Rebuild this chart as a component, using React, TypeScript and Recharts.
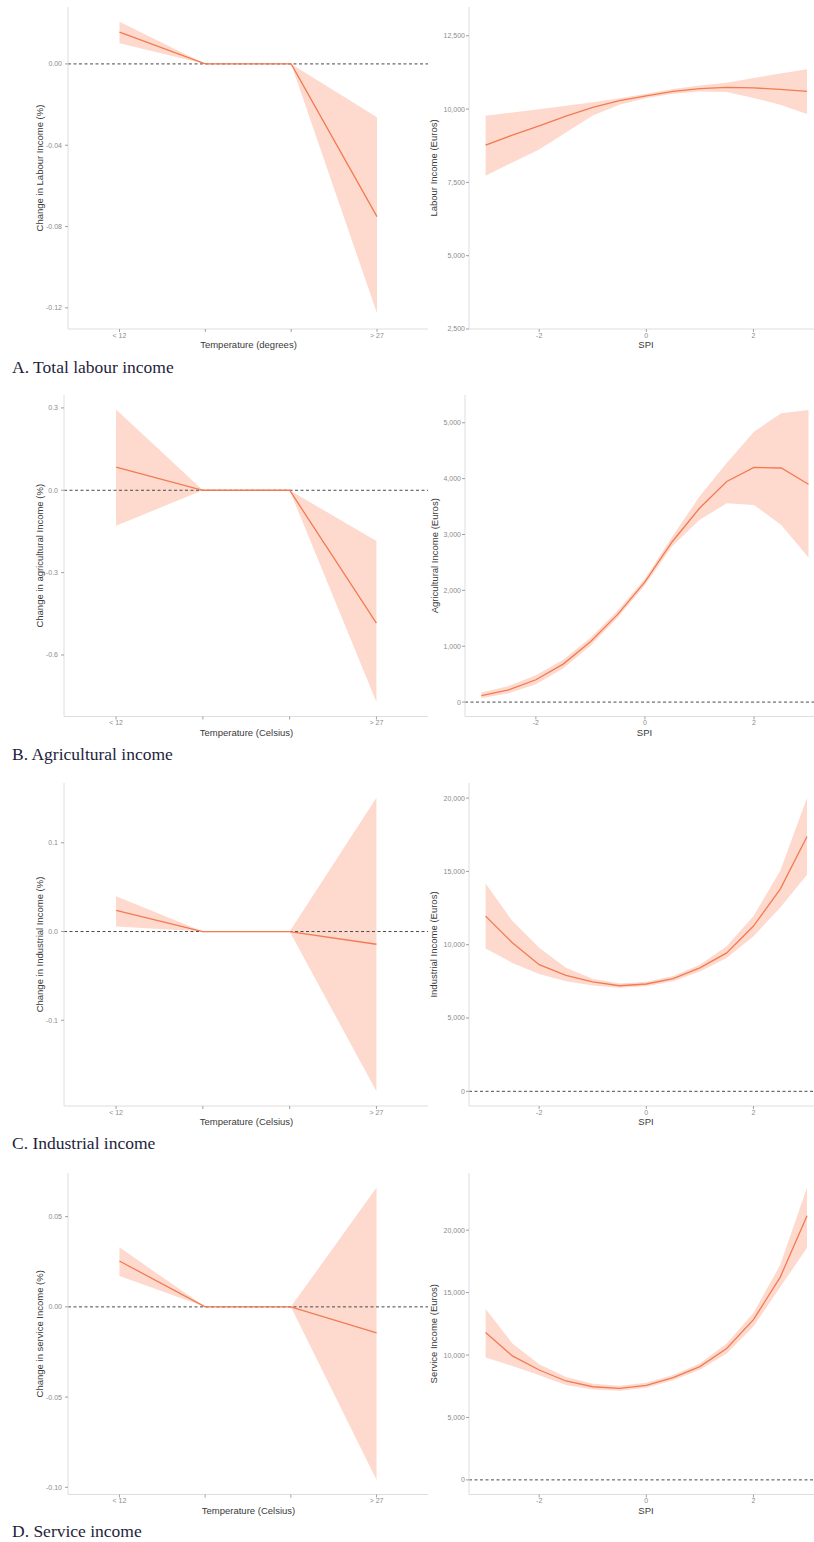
import { ComposedChart, Area, Line, XAxis, YAxis, ReferenceLine } from 'recharts';

// temperature bins (numeric positions 1..4, only the outer bins are labelled)
const tempPos = [1, 2, 3, 4];
const tempLabels = ['< 12', '', '', '> 27'];

// SPI evaluation grid and axis ticks
const spi = [-3, -2.5, -2, -1.5, -1, -0.5, 0, 0.5, 1, 1.5, 2, 2.5, 3];
const spiTicks = [-2, 0, 2];

// A. total labour income
const labourTempEst = [0.0156, 0, 0, -0.0751];
const labourTempLo = [0.0102, 0, 0, -0.1227];
const labourTempHi = [0.0208, 0, 0, -0.0262];
const labourTempTicks = [-0.12, -0.08, -0.04, 0];
const labourSpiEst = [8770, 9110, 9430, 9760, 10060, 10290, 10450, 10600, 10700, 10740, 10720, 10670, 10600];
const labourSpiLo = [7730, 8180, 8620, 9200, 9780, 10150, 10380, 10520, 10600, 10580, 10380, 10150, 9830];
const labourSpiHi = [9770, 9880, 9990, 10110, 10230, 10370, 10520, 10680, 10800, 10900, 11060, 11210, 11360];
const labourSpiTicks = [2500, 5000, 7500, 10000, 12500];

// B. agricultural income
const agriTempEst = [0.084, 0, 0, -0.484];
const agriTempLo = [-0.129, 0, 0, -0.771];
const agriTempHi = [0.294, 0, 0, -0.185];
const agriTempTicks = [-0.6, -0.3, 0, 0.3];
const agriSpiEst = [115, 220, 400, 680, 1080, 1570, 2150, 2870, 3470, 3950, 4200, 4190, 3900];
const agriSpiLo = [70, 160, 320, 600, 1010, 1510, 2090, 2790, 3260, 3560, 3530, 3170, 2590];
const agriSpiHi = [170, 290, 480, 760, 1150, 1640, 2210, 2960, 3680, 4280, 4840, 5170, 5230];
const agriSpiTicks = [0, 1000, 2000, 3000, 4000, 5000];

// C. industrial income
const indTempEst = [0.0239, 0, 0, -0.0143];
const indTempLo = [0.0057, 0, 0, -0.18];
const indTempHi = [0.0398, 0, 0, 0.1508];
const indTempTicks = [-0.1, 0, 0.1];
const indSpiEst = [11950, 10130, 8640, 7910, 7460, 7200, 7320, 7680, 8420, 9440, 11270, 13790, 17380];
const indSpiLo = [9740, 8760, 8000, 7500, 7220, 7060, 7170, 7500, 8180, 9100, 10580, 12530, 14770];
const indSpiHi = [14180, 11610, 9790, 8420, 7680, 7350, 7470, 7870, 8640, 9900, 11960, 15040, 20030];
const indSpiTicks = [0, 5000, 10000, 15000, 20000];

// D. service income
const servTempEst = [0.0254, 0, 0, -0.0144];
const servTempLo = [0.0171, 0, 0, -0.0959];
const servTempHi = [0.033, 0, 0, 0.0661];
const servTempTicks = [-0.1, -0.05, 0, 0.05];
const servSpiEst = [11810, 9930, 8800, 7920, 7460, 7330, 7570, 8190, 9070, 10520, 12830, 16240, 21150];
const servSpiLo = [9800, 9120, 8370, 7600, 7230, 7130, 7380, 7980, 8820, 10130, 12290, 15440, 18580];
const servSpiHi = [13690, 10930, 9260, 8240, 7700, 7530, 7770, 8400, 9330, 10930, 13370, 17230, 23410];
const servSpiTicks = [0, 5000, 10000, 15000, 20000];

const AXIS_W = 60;
const TOP_PAD = 5;
const XAXIS_H = 40;
const LINE = '#f37a52';
const RIBBON = '#fddacd';
const AXIS_LINE = '#dedede';
const TICK_TEXT = '#8c8c8c';
const FONT = '"Liberation Sans", Arial, sans-serif';

const rows = (xs: number[], est: number[], lo: number[], hi: number[]) =>
  xs.map((x, i) => ({ x, est: est[i], band: [lo[i], hi[i]] }));

const fmtTemp = (v: number) => tempLabels[tempPos.indexOf(v)] ?? '';
const fmtDec = (d: number) => (v: number) => v.toFixed(d);
const fmtEuro = (v: number) => v.toLocaleString('en-US');
const fmtSpi = (v: number) => String(v);

interface PanelSpec {
  x0: number; x1: number; y0: number; y1: number;
  xDomain: [number, number]; yDomain: [number, number];
  xTicks: number[]; yTicks: number[];
  xFmt: (v: number) => string; yFmt: (v: number) => string;
  data: { x: number; est: number; band: number[] }[];
  xTitle: string; yTitle: string; xTitleX: number; yTitleX: number;
  zero: boolean; yTickMargin: number;
}

function Panel({ p }: { p: PanelSpec }) {
  const w = p.x1 - p.x0 + AXIS_W;
  const h = p.y1 - p.y0 + TOP_PAD + XAXIS_H;
  return (
    <div style={{ position: 'absolute', left: p.x0 - AXIS_W, top: p.y0 - TOP_PAD, width: w, height: h }}>
      <ComposedChart width={w} height={h} data={p.data} margin={{ top: TOP_PAD, right: 0, bottom: 0, left: 0 }}
        style={{ fontFamily: FONT }}>
        <XAxis
          type="number"
          dataKey="x"
          domain={p.xDomain}
          allowDataOverflow
          ticks={p.xTicks}
          interval={0}
          tickFormatter={p.xFmt}
          height={XAXIS_H}
          stroke={AXIS_LINE}
          tick={{ fontSize: 7, fill: TICK_TEXT }}
          tickLine={{ stroke: '#a0a0a0' }}
          tickSize={3}
          tickMargin={1}
          label={{
            value: p.xTitle,
            position: 'center',
            dx: p.xTitleX - (p.x0 + p.x1) / 2,
            dy: -4,
            fontSize: 9.5,
            fill: '#3a3a3a',
          }}
        />
        <YAxis
          type="number"
          width={AXIS_W}
          domain={p.yDomain}
          allowDataOverflow
          ticks={p.yTicks}
          interval={0}
          tickFormatter={p.yFmt}
          stroke={AXIS_LINE}
          tick={{ fontSize: 7, fill: TICK_TEXT }}
          tickLine={{ stroke: '#a0a0a0' }}
          tickSize={3}
          tickMargin={p.yTickMargin}
          label={{
            value: p.yTitle,
            angle: -90,
            position: 'center',
            dx: p.yTitleX - (p.x0 - AXIS_W / 2),
            fontSize: 9.5,
            fill: '#3a3a3a',
          }}
        />
        <Area dataKey="band" type="linear" stroke="none" fill={RIBBON} fillOpacity={1} isAnimationActive={false} />
        {p.zero && <ReferenceLine y={0} stroke="#4a4a4a" strokeDasharray="3 2.5" strokeWidth={1} />}
        <Line dataKey="est" type="linear" stroke={LINE} strokeWidth={1.3} dot={false} activeDot={false}
          isAnimationActive={false} />
      </ComposedChart>
    </div>
  );
}

const panels: PanelSpec[] = [
  {
    x0: 67.5, x1: 428, y0: 7, y1: 329, xDomain: [0.4, 4.6], yDomain: [-0.1304, 0.028],
    xTicks: tempPos, yTicks: labourTempTicks, xFmt: fmtTemp, yFmt: fmtDec(2),
    data: rows(tempPos, labourTempEst, labourTempLo, labourTempHi),
    xTitle: 'Temperature (degrees)', yTitle: 'Change in Labour Income (%)', xTitleX: 248, yTitleX: 39,
    zero: true, yTickMargin: 3,
  },
  {
    x0: 469, x1: 814, y0: 7, y1: 329, xDomain: [-3.31, 3.13], yDomain: [2500, 13480],
    xTicks: spiTicks, yTicks: labourSpiTicks, xFmt: fmtSpi, yFmt: fmtEuro,
    data: rows(spi, labourSpiEst, labourSpiLo, labourSpiHi),
    xTitle: 'SPI', yTitle: 'Labour Income (Euros)', xTitleX: 646, yTitleX: 434,
    zero: false, yTickMargin: 1,
  },
  {
    x0: 63.5, x1: 428, y0: 395, y1: 716.5, xDomain: [0.4, 4.6], yDomain: [-0.824, 0.347],
    xTicks: tempPos, yTicks: agriTempTicks, xFmt: fmtTemp, yFmt: fmtDec(1),
    data: rows(tempPos, agriTempEst, agriTempLo, agriTempHi),
    xTitle: 'Temperature (Celsius)', yTitle: 'Change in agricultural Income (%)', xTitleX: 246, yTitleX: 39,
    zero: true, yTickMargin: 3,
  },
  {
    x0: 464.5, x1: 814, y0: 395, y1: 716.5, xDomain: [-3.3, 3.11], yDomain: [-258, 5497],
    xTicks: spiTicks, yTicks: agriSpiTicks, xFmt: fmtSpi, yFmt: fmtEuro,
    data: rows(spi, agriSpiEst, agriSpiLo, agriSpiHi),
    xTitle: 'SPI', yTitle: 'Agricultural Income (Euros)', xTitleX: 644, yTitleX: 434,
    zero: true, yTickMargin: 1,
  },
  {
    x0: 63.5, x1: 428, y0: 783, y1: 1106, xDomain: [0.4, 4.6], yDomain: [-0.1966, 0.1674],
    xTicks: tempPos, yTicks: indTempTicks, xFmt: fmtTemp, yFmt: fmtDec(1),
    data: rows(tempPos, indTempEst, indTempLo, indTempHi),
    xTitle: 'Temperature (Celsius)', yTitle: 'Change in Industrial Income (%)', xTitleX: 246, yTitleX: 39,
    zero: true, yTickMargin: 3,
  },
  {
    x0: 469, x1: 814, y0: 783, y1: 1106, xDomain: [-3.31, 3.13], yDomain: [-1001, 21028],
    xTicks: spiTicks, yTicks: indSpiTicks, xFmt: fmtSpi, yFmt: fmtEuro,
    data: rows(spi, indSpiEst, indSpiLo, indSpiHi),
    xTitle: 'SPI', yTitle: 'Industrial Income (Euros)', xTitleX: 646, yTitleX: 434,
    zero: true, yTickMargin: 1,
  },
  {
    x0: 67.5, x1: 427.5, y0: 1172.5, y1: 1494, xDomain: [0.4, 4.6], yDomain: [-0.104, 0.0742],
    xTicks: tempPos, yTicks: servTempTicks, xFmt: fmtTemp, yFmt: fmtDec(2),
    data: rows(tempPos, servTempEst, servTempLo, servTempHi),
    xTitle: 'Temperature (Celsius)', yTitle: 'Change in service Income (%)', xTitleX: 248, yTitleX: 39,
    zero: true, yTickMargin: 3,
  },
  {
    x0: 469, x1: 814, y0: 1172.5, y1: 1494, xDomain: [-3.31, 3.13], yDomain: [-1170, 24576],
    xTicks: spiTicks, yTicks: servSpiTicks, xFmt: fmtSpi, yFmt: fmtEuro,
    data: rows(spi, servSpiEst, servSpiLo, servSpiHi),
    xTitle: 'SPI', yTitle: 'Service Income (Euros)', xTitleX: 646, yTitleX: 434,
    zero: true, yTickMargin: 1,
  },
];

const captions = [
  { text: 'A. Total labour income', y: 366.5 },
  { text: 'B. Agricultural income', y: 754 },
  { text: 'C. Industrial income', y: 1143 },
  { text: 'D. Service income', y: 1530.5 },
];

export default function App() {
  return (
    <div style={{ position: 'absolute', left: 0, top: 0, width: 814, height: 1542, overflow: 'hidden', background: '#fff' }}>
      {panels.map((p, i) => <Panel key={i} p={p} />)}
      {captions.map((c) => (
        <div
          key={c.text}
          style={{
            position: 'absolute', left: 12, top: c.y - 10, height: 20, lineHeight: '20px',
            fontFamily: '"Liberation Serif", "Times New Roman", serif', fontSize: 17.5, color: '#1e1e3c',
            whiteSpace: 'nowrap',
          }}
        >
          {c.text}
        </div>
      ))}
    </div>
  );
}
